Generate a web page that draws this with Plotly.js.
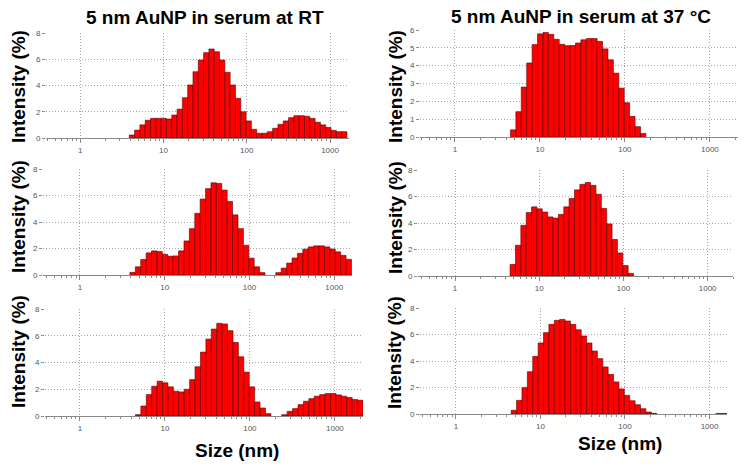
<!DOCTYPE html>
<html><head><meta charset="utf-8">
<script src="https://cdn.plot.ly/plotly-3.0.1.min.js"></script>
<style>html,body{margin:0;padding:0;background:#fff}#chart{width:749px;height:470px}</style>
</head><body><div id="chart"></div>
<script>
// Size classes (nm)
const sizes=[0.4,0.4632,0.5365,0.6213,0.7195,0.8332,0.9649,1.117,1.294,1.499,1.736,2.01,2.328,2.696,3.122,3.615,
4.187,4.849,5.615,6.503,7.531,8.721,10.1,11.7,13.54,15.69,18.17,21.04,24.36,28.21,32.67,37.84,43.82,50.75,58.77,68.06,
78.82,91.28,105.7,122.4,141.8,164.2,190.1,220.2,255.0,295.3,342.0,396.1,458.7,531.2,615.1,712.4,825.0,955.4,1106,1281,
1484,1718,1990,2305,2669,3091,3580,4145,4801,5560,6439,7456,8635,10000];

// Intensity (%) per size class
const rtRun1=[0,0,0,0,0,0,0,0,0,0,0,0,0,0,0,0,
0.23,0.6,1.0,1.35,1.5,1.5,1.5,1.45,1.75,2.2,3.07,4.04,5.05,5.94,6.5,6.78,6.57,5.94,5.0,4.04,
3.02,2.0,1.3,0.66,0.36,0.36,0.48,0.74,1.04,1.3,1.55,1.7,1.7,1.65,1.5,1.2,1.0,0.8,0.58,0.48,
0.48,0,0,0,0,0,0,0,0,0,0,0,0,0];
const c37Run1=[0,0,0,0,0,0,0,0,0,0,0,0,0,0,0,0,
0,0.4,1.42,2.8,4.15,5.18,5.78,5.86,5.76,5.48,5.2,5.12,5.13,5.27,5.45,5.52,5.52,5.36,4.94,4.33,
3.58,2.74,1.92,1.15,0.58,0.2,0,0,0,0,0,0,0,0,0,0,0,0,0,0,
0,0,0,0,0,0,0,0,0,0,0,0,0,0];
const rtRun2=[0,0,0,0,0,0,0,0,0,0,0,0,0,0,0,0,
0.2,0.62,1.17,1.67,1.82,1.77,1.56,1.42,1.44,1.82,2.57,3.5,4.65,5.73,6.52,6.96,6.91,6.41,5.55,4.54,
3.5,2.24,1.27,0.62,0.18,0,0,0.18,0.52,0.9,1.28,1.64,1.95,2.12,2.2,2.2,2.12,1.96,1.75,1.48,
1.18,0,0,0,0,0,0,0,0,0,0,0,0,0];
const c37Run2=[0,0,0,0,0,0,0,0,0,0,0,0,0,0,0,0,
0,0.87,2.32,3.82,4.79,5.22,5.07,4.83,4.46,4.37,4.65,5.22,5.85,6.5,6.92,7.06,6.84,6.17,5.1,3.93,
2.76,1.74,0.79,0.2,0,0,0,0,0,0,0,0,0,0,0,0,0,0,0,0,
0,0,0,0,0,0,0,0,0,0,0,0,0,0];
const rtRun3=[0,0,0,0,0,0,0,0,0,0,0,0,0,0,0,0,
0,0.1,0.75,1.6,2.22,2.6,2.48,2.18,1.85,1.8,2.0,2.72,3.68,4.78,5.75,6.5,6.93,6.88,6.38,5.5,
4.43,3.28,2.18,1.05,0.6,0.18,0,0,0.1,0.35,0.55,0.85,1.1,1.3,1.48,1.6,1.68,1.68,1.58,1.48,
1.38,1.23,1.18,0,0,0,0,0,0,0,0,0,0,0];
const c37Run3=[0,0,0,0,0,0,0,0,0,0,0,0,0,0,0,0,
0,0.28,1.03,1.99,3.19,4.35,5.36,6.14,6.77,7.07,7.14,7.02,6.77,6.36,5.89,5.36,4.75,4.18,3.55,2.99,
2.42,1.89,1.41,1.0,0.7,0.4,0.15,0.05,0,0,0,0,0,0,0,0,0,0,0,0.04,
0.04,0,0,0,0,0,0,0,0,0,0,0,0,0];

const xTickSizes=[1,10,100,1000];
const xTickText=['1','10','100','1000'];
const titleRT='5 nm AuNP in serum at RT';
const title37='5 nm AuNP in serum at 37 °C';
const yTitle='Intensity (%)';
const xTitle='Size (nm)';

const W=749,H=470;
const FONT='Arial, "Liberation Sans", sans-serif';
// x axis is log10(size): the library scales log10 values linearly
const lg=v=>Math.log10(v);
const minorVals=[];
[0.1,1,10,100,1000].forEach(d=>{for(let m=2;m<=9;m++)minorVals.push(lg(m*d));});
const panels=[
 {v:rtRun1, px:[46,349], py:[33,138], xr:[0.389,1690], ymax:8, dy:2},
 {v:c37Run1,px:[420,738],py:[30,137], xr:[0.389,2140], ymax:6, dy:1},
 {v:rtRun2, px:[43,352], py:[169,275],xr:[0.367,1620], ymax:8, dy:2},
 {v:c37Run2,px:[418,733],py:[170,276],xr:[0.363,2000], ymax:8, dy:2},
 {v:rtRun3, px:[45,363], py:[309,416],xr:[0.389,2140], ymax:8, dy:2},
 {v:c37Run3,px:[420,727],py:[308,414],xr:[0.376,1610], ymax:8, dy:2}
];

const data=[];
const layout={width:W,height:H,margin:{l:0,r:0,t:0,b:0},showlegend:false,
  paper_bgcolor:'#fff',plot_bgcolor:'#fff',bargap:0,font:{family:FONT},annotations:[]};

panels.forEach((p,i)=>{
  const n=i===0?'':String(i+1);
  const xs=[],ys=[];
  sizes.forEach((s,k)=>{ if(p.v[k]>0){xs.push(lg(s));ys.push(p.v[k]);} });
  data.push({type:'bar',x:xs,y:ys,xaxis:'x'+n,yaxis:'y'+n,width:lg(sizes[1]/sizes[0]),
    marker:{color:'#ff0000',line:{color:'#5a0000',width:0.6}},hoverinfo:'skip'});
  layout['xaxis'+n]={type:'linear',domain:[p.px[0]/W,p.px[1]/W],range:[lg(p.xr[0]),lg(p.xr[1])],anchor:'y'+n,
    tickmode:'array',tickvals:xTickSizes.map(lg),ticktext:xTickText,
    showgrid:true,gridcolor:'#a8a8a8',griddash:'1px,2px',gridwidth:1,
    showline:true,linecolor:'#8a8a8a',linewidth:1,ticks:'outside',ticklen:4,tickcolor:'#8a8a8a',
    minor:{tickmode:'array',tickvals:minorVals,ticks:'outside',ticklen:2,tickcolor:'#8a8a8a',showgrid:false},
    tickfont:{size:8,color:'#555',family:FONT},zeroline:false,fixedrange:true};
  layout['yaxis'+n]={domain:[1-p.py[1]/H,1-p.py[0]/H],range:[0,p.ymax],anchor:'x'+n,
    dtick:p.dy,tick0:0,showgrid:true,gridcolor:'#a8a8a8',griddash:'1px,2px',gridwidth:1,
    showline:false,ticks:'outside',ticklen:3,tickcolor:'#8a8a8a',
    tickfont:{size:8,color:'#555',family:FONT},zeroline:false,fixedrange:true};
});

function ann(text,x,y,size,angle){
  layout.annotations.push({text:text,xref:'paper',yref:'paper',x:x/W,y:1-y/H,
    xanchor:'center',yanchor:'middle',showarrow:false,textangle:angle||0,
    font:{family:FONT,size:size,color:'#000',weight:'bold'}});
}
ann(titleRT,205,17,19);
ann(title37,581,16,19);
ann(xTitle,237,450,19);
ann(xTitle,620,443,19);
ann(yTitle,18,87,19,-90);
ann(yTitle,18,217,19,-90);
ann(yTitle,18,352,19,-90);
ann(yTitle,395,87,19,-90);
ann(yTitle,395,218,19,-90);
ann(yTitle,394,353,19,-90);

Plotly.newPlot('chart',data,layout,{staticPlot:true,displayModeBar:false});
</script></body></html>
